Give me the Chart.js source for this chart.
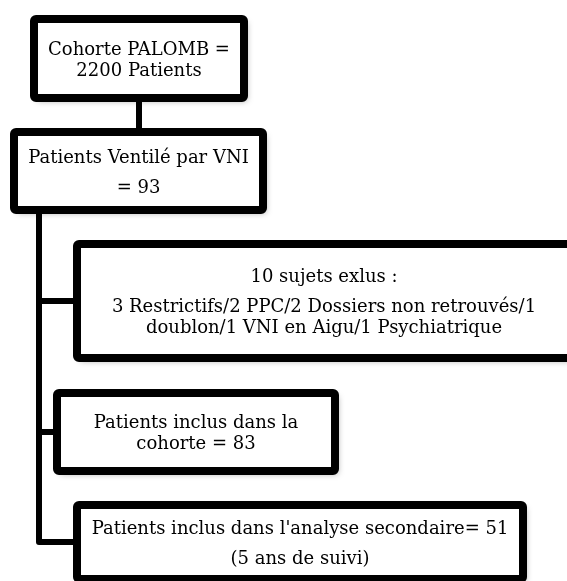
<!DOCTYPE html>
<html>
<head>
<meta charset="utf-8">
<script src="https://cdn.jsdelivr.net/npm/chart.js@4"></script>
<style>
  html, body { margin: 0; padding: 0; background: #fff; }
  #flow { display: block; }
</style>
</head>
<body>
<canvas id="flow" width="567" height="581"></canvas>
<script>
// boxes of the flowchart, in diagram units (same grid as the picture)
const nodeText = [
  [["Cohorte PALOMB =", "2200 Patients"]],
  [["Patients Ventilé par VNI"], ["= 93"]],
  [["10 sujets exlus :"], ["3 Restrictifs/2 PPC/2 Dossiers non retrouvés/1", "doublon/1 VNI en Aigu/1 Psychiatrique"]],
  [["Patients inclus dans la", "cohorte = 83"]],
  [["Patients inclus dans l'analyse secondaire= 51"], ["(5 ans de suivi)"]],
];
const nodeLeft = [30, 10, 73, 53, 73];
const nodeRight = [248, 267, 575, 339, 527];
const nodeTop = [15, 128, 240, 389, 501];
const nodeBottom = [102, 214, 362, 475, 583];

// node 0 -> node 1 straight down, node 1 -> 2,3,4 through a spine on the left
const spineX = 39;
const branchTo = [2, 3, 4];

const FONT = { family: "'DejaVu Serif', serif", size: 18 };
const LINE_H = 21;
const PARA_GAP = 9;
const BORDER = 8;
const LINK_W = 6;

const mid = (a, b) => (a + b) / 2;

const flowPlugin = {
  id: "flow",
  afterDatasetsDraw(chart) {
    const { ctx, scales: { x, y } } = chart;
    const px = (v) => x.getPixelForValue(v);
    const py = (v) => y.getPixelForValue(v);

    ctx.save();
    ctx.strokeStyle = "#000";
    ctx.lineCap = "butt";
    ctx.lineJoin = "round";
    ctx.lineWidth = LINK_W;

    // top link
    const cx0 = mid(nodeLeft[0], nodeRight[0]);
    ctx.beginPath();
    ctx.moveTo(px(cx0), py(nodeBottom[0]));
    ctx.lineTo(px(cx0), py(nodeTop[1]));
    ctx.stroke();

    // spine and branches
    const lastY = mid(nodeTop[branchTo[branchTo.length - 1]], nodeBottom[branchTo[branchTo.length - 1]]);
    ctx.beginPath();
    ctx.moveTo(px(spineX), py(nodeBottom[1]));
    ctx.lineTo(px(spineX), py(lastY));
    ctx.lineTo(px(nodeLeft[branchTo[branchTo.length - 1]]), py(lastY));
    ctx.stroke();
    branchTo.slice(0, -1).forEach((i) => {
      const by = mid(nodeTop[i], nodeBottom[i]);
      ctx.beginPath();
      ctx.moveTo(px(spineX), py(by));
      ctx.lineTo(px(nodeLeft[i]), py(by));
      ctx.stroke();
    });

    // boxes
    nodeText.forEach((paras, i) => {
      const l = px(nodeLeft[i]), r = px(nodeRight[i]);
      const t = py(nodeTop[i]), b = py(nodeBottom[i]);
      const h = BORDER / 2;

      ctx.save();
      ctx.shadowColor = "rgba(0,0,0,0.35)";
      ctx.shadowBlur = 6;
      ctx.shadowOffsetX = 3;
      ctx.shadowOffsetY = 3;
      ctx.fillStyle = "#fff";
      ctx.beginPath();
      ctx.roundRect(l + h, t + h, r - l - BORDER, b - t - BORDER, 2);
      ctx.fill();
      ctx.shadowColor = "transparent";
      ctx.lineWidth = BORDER;
      ctx.stroke();
      ctx.restore();

      // text
      ctx.fillStyle = "#000";
      ctx.font = `${FONT.size}px ${FONT.family}`;
      ctx.textAlign = "center";
      ctx.textBaseline = "alphabetic";
      const capH = FONT.size * 0.73;
      let span = 0;
      paras.forEach((p, k) => {
        span += (p.length - 1) * LINE_H;
        if (k > 0) span += LINE_H + PARA_GAP;
      });
      let base = mid(t, b) - (capH + span) / 2 + capH;
      const cx = mid(l, r);
      paras.forEach((p, k) => {
        if (k > 0) base += LINE_H + PARA_GAP;
        p.forEach((line, j) => {
          if (j > 0) base += LINE_H;
          ctx.fillText(line, cx, base);
        });
      });
    });
    ctx.restore();
  },
};

new Chart(document.getElementById("flow"), {
  type: "scatter",
  data: {
    datasets: [{
      data: nodeText.map((_, i) => ({ x: mid(nodeLeft[i], nodeRight[i]), y: mid(nodeTop[i], nodeBottom[i]) })),
      pointRadius: 0,
    }],
  },
  options: {
    responsive: false,
    animation: false,
    layout: { padding: 0 },
    plugins: { legend: { display: false }, tooltip: { enabled: false } },
    scales: {
      x: { type: "linear", min: 0, max: 567, display: false },
      y: { type: "linear", min: 0, max: 581, reverse: true, display: false },
    },
  },
  plugins: [flowPlugin],
});
</script>
</body>
</html>
